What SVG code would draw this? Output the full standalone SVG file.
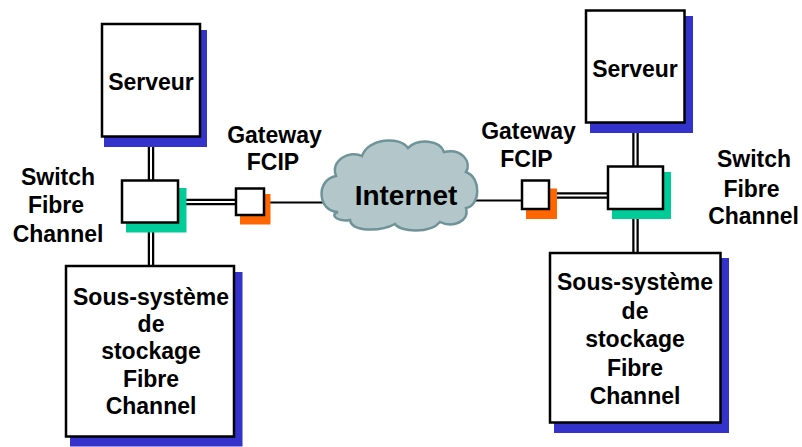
<svg xmlns="http://www.w3.org/2000/svg" width="802" height="447" viewBox="0 0 802 447">
<style>
.box{fill:#fff;stroke:#000;stroke-width:2.5}
.blue{fill:#3333CC}
.green{fill:#00CC99}
.orange{fill:#FF6600}
.dbl{stroke:#000;stroke-width:6.5;fill:none}
.dbl-in{stroke:#fff;stroke-width:2;fill:none}
.single{stroke:#000;stroke-width:2;fill:none}
.cloud{fill:#B3C6C9;stroke:#6E9398;stroke-width:2.5}
text{font-family:"Liberation Sans",Arial,sans-serif;font-weight:bold;fill:#000;text-anchor:middle;font-size:23px}
.big{font-size:28px}
</style>
<rect width="802" height="447" fill="#fff"/>
<g id="connectors">
  <line class="dbl" x1="151" y1="136" x2="151" y2="182"/>
  <line class="dbl-in" x1="151" y1="136" x2="151" y2="182"/>
  <line class="dbl" x1="151" y1="222" x2="151" y2="267"/>
  <line class="dbl-in" x1="151" y1="222" x2="151" y2="267"/>
  <line class="dbl" x1="178" y1="202" x2="237" y2="202"/>
  <line class="dbl-in" x1="178" y1="202" x2="237" y2="202"/>
  <line class="single" x1="264" y1="202.5" x2="323" y2="202.5"/>
  <line class="single" x1="474" y1="200.5" x2="522" y2="200.5"/>
  <line class="dbl" x1="549" y1="195.5" x2="608" y2="195.5"/>
  <line class="dbl-in" x1="549" y1="195.5" x2="608" y2="195.5"/>
  <line class="dbl" x1="635.5" y1="122" x2="635.5" y2="167"/>
  <line class="dbl-in" x1="635.5" y1="122" x2="635.5" y2="167"/>
  <line class="dbl" x1="635.5" y1="209" x2="635.5" y2="254"/>
  <line class="dbl-in" x1="635.5" y1="209" x2="635.5" y2="254"/>
</g>
<g id="serveur-left">
  <rect class="blue" x="104" y="30" width="103" height="117"/>
  <rect class="box" x="102" y="24" width="98" height="112.5"/>
  <text x="151" y="90">Serveur</text>
</g>
<g id="switch-left">
  <rect class="green" x="126" y="188" width="60.5" height="44.5"/>
  <rect class="box" x="122" y="180.5" width="56" height="42"/>
</g>
<g id="switch-left-label">
  <text x="58" y="185">Switch</text>
  <text x="56" y="213">Fibre</text>
  <text x="58" y="242">Channel</text>
</g>
<g id="gateway-left">
  <rect class="orange" x="240" y="194" width="30.5" height="30.5"/>
  <rect class="box" x="236" y="188.5" width="28" height="26.5"/>
  <text x="274.5" y="143">Gateway</text>
  <text x="273" y="170">FCIP</text>
</g>
<g id="storage-left">
  <rect class="blue" x="70" y="272" width="172.5" height="174.5"/>
  <rect class="box" x="66" y="266" width="168" height="170.5"/>
  <text x="151" y="305">Sous-système</text>
  <text x="151" y="332">de</text>
  <text x="151" y="359">stockage</text>
  <text x="151" y="387">Fibre</text>
  <text x="151" y="414">Channel</text>
</g>
<g id="internet">
  <path class="cloud" d="M 338,212 C 318,212 315,180 336,176 C 330,160 350,150 362,156 C 368,138 400,136 408,148 C 418,138 440,140 444,152 C 462,148 472,162 466,172 C 482,178 480,206 466,208 C 470,222 452,228 440,222 C 430,234 400,232 395,224 C 380,232 352,232 350,220 C 340,222 328,216 338,212 Z"/>
  <text class="big" x="406" y="205">Internet</text>
</g>
<g id="gateway-right">
  <rect class="orange" x="526" y="188.5" width="31" height="30.5"/>
  <rect class="box" x="522" y="180.5" width="27" height="28.5"/>
  <text x="528.5" y="139">Gateway</text>
  <text x="526.5" y="166.5">FCIP</text>
</g>
<g id="switch-right">
  <rect class="green" x="612" y="172" width="59" height="47"/>
  <rect class="box" x="608" y="166.5" width="55" height="42.5"/>
</g>
<g id="switch-right-label">
  <text x="754" y="166.5">Switch</text>
  <text x="751.5" y="196.5">Fibre</text>
  <text x="753.5" y="224">Channel</text>
</g>
<g id="serveur-right">
  <rect class="blue" x="590" y="16" width="103" height="117"/>
  <rect class="box" x="586" y="10.5" width="98.5" height="112"/>
  <text x="635" y="77">Serveur</text>
</g>
<g id="storage-right">
  <rect class="blue" x="554" y="258" width="175" height="175"/>
  <rect class="box" x="550" y="253" width="170.5" height="169.5"/>
  <text x="635" y="290">Sous-système</text>
  <text x="635" y="318.5">de</text>
  <text x="635" y="347">stockage</text>
  <text x="635" y="376">Fibre</text>
  <text x="635" y="404">Channel</text>
</g>
</svg>
